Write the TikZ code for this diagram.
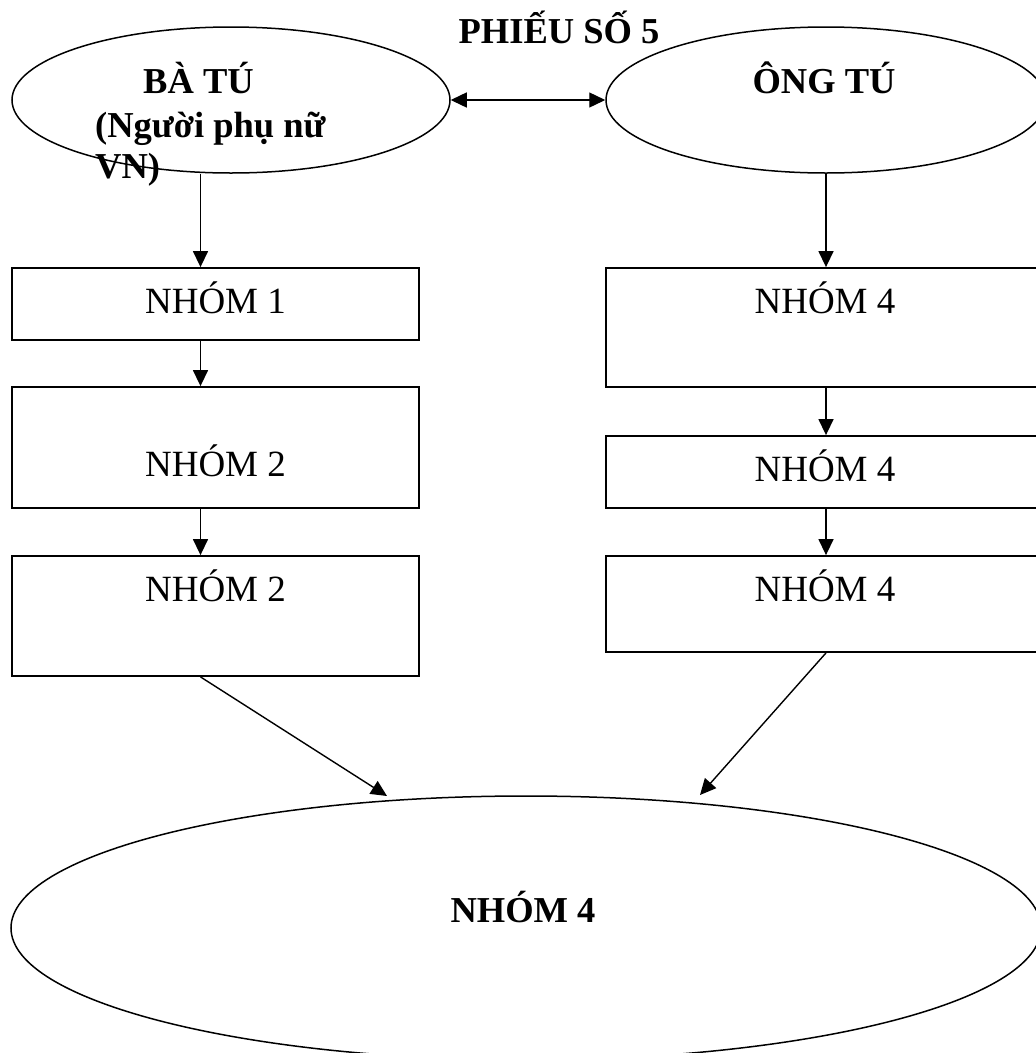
\documentclass[tikz,border=0pt]{standalone}
\usepackage{fontspec}
\setmainfont{Liberation Serif}
\usetikzlibrary{arrows.meta,shapes.geometric}
\begin{document}
\begin{tikzpicture}[x=1pt,y=-1pt,
  oval/.style={draw, ellipse, line width=1.5pt, inner sep=0pt},
  boxn/.style={draw, rectangle, line width=1.8pt, inner sep=0pt},
  txt/.style={font=\fontsize{37}{42}\selectfont, inner sep=0pt, anchor=base},
  btxt/.style={font=\fontsize{36.5}{42}\selectfont\bfseries, inner sep=0pt},
  arr/.style={line width=1.4pt, -{Triangle[length=16pt,width=15pt]}},
  darr/.style={line width=1.4pt, {Triangle[length=16pt,width=15pt]}-{Triangle[length=16pt,width=15pt]}}]
\useasboundingbox (0,0) rectangle (1036,1053);
\fill[white] (0,0) rectangle (1036,1053);
\clip (0,0) rectangle (1036,1053);

% columns
\coordinate (colL) at (200.5,0);
\coordinate (colR) at (826,0);

% title
\node[btxt, anchor=base] (title) at (559,43) {PHIẾU SỐ 5};

% top ellipses
\node[oval, minimum width=438, minimum height=146] (e1) at (231,100) {};
\node[oval, minimum width=440, minimum height=146] (e2) at (826,100) {};
\node[btxt, anchor=base west] (e1a) at (143,93) {BÀ TÚ};
\node[btxt, anchor=base west] (e1b) at (95,137) {(Người phụ nữ};
\node[btxt, anchor=base west] (e1c) at (95,178) {VN)};
\node[btxt, anchor=base] (e2a) at (824,93) {ÔNG TÚ};

% left boxes
\node[boxn, minimum width=407, minimum height=72] (b1) at (215.5,304) {};
\node[boxn, minimum width=407, minimum height=121] (b2) at (215.5,447.5) {};
\node[boxn, minimum width=407, minimum height=120] (b3) at (215.5,616) {};
\node[txt] (t1) at (215.5,313) {NHÓM 1};
\node[txt] (t2) at (215.5,476) {NHÓM 2};
\node[txt] (t3) at (215.5,601) {NHÓM 2};

% right boxes
\node[boxn, minimum width=439, minimum height=119] (r1) at (825.5,327.5) {};
\node[boxn, minimum width=439, minimum height=72] (r2) at (825.5,472) {};
\node[boxn, minimum width=439, minimum height=96] (r3) at (825.5,604) {};
\node[txt] (s1) at (825,313) {NHÓM 4};
\node[txt] (s2) at (825,481) {NHÓM 4};
\node[txt] (s3) at (825,601) {NHÓM 4};

% bottom ellipse
\node[oval, minimum width=1030, minimum height=264] (e3) at (526,928) {};
\node[btxt, anchor=base] (e3a) at (523,922) {NHÓM 4};

% arrow ends
\coordinate (tipL) at (387,796);
\coordinate (tipR) at (700,795);

% connectors
\draw[darr] (e1.east) -- (e2.west);
\draw[arr] (colL |- e1.south) -- (colL |- b1.north);
\draw[arr] (colL |- b1.south) -- (colL |- b2.north);
\draw[arr] (colL |- b2.south) -- (colL |- b3.north);
\draw[arr] (colR |- e2.south) -- (colR |- r1.north);
\draw[arr] (colR |- r1.south) -- (colR |- r2.north);
\draw[arr] (colR |- r2.south) -- (colR |- r3.north);
\draw[arr] (colL |- b3.south) -- (tipL);
\draw[arr] (colR |- r3.south) -- (tipR);
\end{tikzpicture}
\end{document}
